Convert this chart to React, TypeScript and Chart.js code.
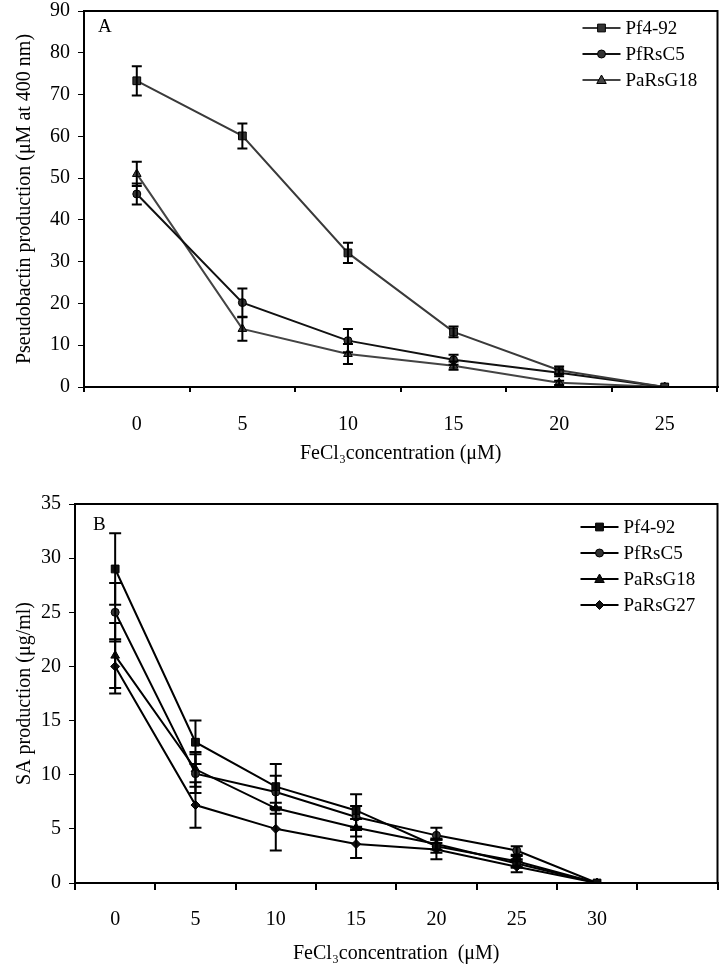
import React, { useEffect, useRef } from 'react';
import { Chart, registerables } from 'chart.js';
Chart.register(...registerables);

// ---------- Panel A data ----------
const catsA = ['0', '5', '10', '15', '20', '25'];
const pf492A = [73.3, 60.1, 32.1, 13.2, 4.0, 0];
const pf492AErr = [3.5, 3.0, 2.4, 1.3, 0.9, 0];
const pfRsC5A = [46.2, 20.2, 11.1, 6.5, 3.4, 0];
const pfRsC5AErr = [2.5, 3.4, 2.8, 1.2, 0.8, 0];
const paRsG18A = [51.0, 13.9, 7.9, 5.1, 1.0, 0];
const paRsG18AErr = [2.9, 2.8, 2.4, 1.0, 0.5, 0];

// ---------- Panel B data ----------
const catsB = ['0', '5', '10', '15', '20', '25', '30', ''];
const pf492B = [29.0, 13.0, 8.9, 6.7, 3.4, 2.0, 0];
const pf492BErr = [3.3, 2.0, 2.1, 1.5, 0.6, 0.5, 0];
const pfRsC5B = [25.0, 10.1, 8.4, 6.1, 4.4, 3.0, 0];
const pfRsC5BErr = [2.7, 1.8, 1.5, 1.0, 0.7, 0.4, 0];
const paRsG18B = [21.0, 10.5, 6.9, 5.1, 3.6, 1.8, 0];
const paRsG18BErr = [3.0, 1.6, 0.5, 0.8, 0.5, 0.4, 0];
const paRsG27B = [20.0, 7.2, 5.0, 3.6, 3.1, 1.5, 0];
const paRsG27BErr = [2.5, 2.1, 2.0, 1.3, 0.9, 0.5, 0];

const FONT = "'Liberation Serif', 'Times New Roman', serif";

function drawMarker(ctx: CanvasRenderingContext2D, style: string, x: number, y: number, r: number, fill: string) {
  ctx.save();
  ctx.fillStyle = fill;
  ctx.strokeStyle = '#000';
  ctx.lineWidth = 1;
  ctx.beginPath();
  if (style === 'rect') {
    const s = r * Math.SQRT1_2;
    ctx.rect(x - s, y - s, 2 * s, 2 * s);
  } else if (style === 'circle') {
    ctx.arc(x, y, r, 0, Math.PI * 2);
  } else if (style === 'triangle') {
    ctx.moveTo(x, y - r);
    ctx.lineTo(x + r * 0.95, y + r * 0.7);
    ctx.lineTo(x - r * 0.95, y + r * 0.7);
    ctx.closePath();
  } else if (style === 'rectRot') {
    ctx.moveTo(x, y - r);
    ctx.lineTo(x + r, y);
    ctx.lineTo(x, y + r);
    ctx.lineTo(x - r, y);
    ctx.closePath();
  }
  ctx.fill();
  ctx.stroke();
  ctx.restore();
}

function makePlugin(opts: { letter: string; letterDx: number; letterDy: number; legX: number; legDy: number; legStep: number; cap: number }) {
  return {
    id: 'custom' + opts.letter,
    afterDatasetsDraw(chart: any) {
      const ctx = chart.ctx as CanvasRenderingContext2D;
      const yScale = chart.scales.y;
      ctx.save();
      ctx.strokeStyle = '#000';
      ctx.lineWidth = 2;
      chart.data.datasets.forEach((ds: any, di: number) => {
        const meta = chart.getDatasetMeta(di);
        const errs: number[] = ds.errors || [];
        meta.data.forEach((pt: any, i: number) => {
          const e = errs[i];
          if (!e) return;
          const v = ds.data[i];
          const yt = yScale.getPixelForValue(v + e);
          const yb = yScale.getPixelForValue(v - e);
          ctx.beginPath();
          ctx.moveTo(pt.x, yt);
          ctx.lineTo(pt.x, yb);
          ctx.moveTo(pt.x - opts.cap, yt);
          ctx.lineTo(pt.x + opts.cap, yt);
          ctx.moveTo(pt.x - opts.cap, yb);
          ctx.lineTo(pt.x + opts.cap, yb);
          ctx.stroke();
        });
      });
      ctx.restore();
    },
    afterDraw(chart: any) {
      const ctx = chart.ctx as CanvasRenderingContext2D;
      const a = chart.chartArea;
      ctx.save();
      ctx.strokeStyle = '#000';
      ctx.lineWidth = 2;
      ctx.strokeRect(a.left, a.top, a.right - a.left, a.bottom - a.top);
      // panel letter
      ctx.fillStyle = '#000';
      ctx.font = `19px ${FONT}`;
      ctx.textBaseline = 'middle';
      ctx.textAlign = 'left';
      ctx.fillText(opts.letter, a.left + opts.letterDx, a.top + opts.letterDy);
      // legend
      const x0 = a.right - opts.legX;
      chart.data.datasets.forEach((ds: any, di: number) => {
        const y = a.top + opts.legDy + di * opts.legStep;
        ctx.strokeStyle = ds.borderColor;
        ctx.lineWidth = 2;
        ctx.beginPath();
        ctx.moveTo(x0, y);
        ctx.lineTo(x0 + 38, y);
        ctx.stroke();
        drawMarker(ctx, ds.pointStyle, x0 + 19, y, ds.pointRadius, ds.pointBackgroundColor);
        ctx.fillStyle = '#000';
        ctx.font = `19px ${FONT}`;
        ctx.textBaseline = 'middle';
        ctx.fillText(ds.label, x0 + 43, y + 1);
      });
      ctx.restore();
    },
  };
}

function ds(label: string, data: number[], errors: number[], style: string, color: string, fill: string, radius: number) {
  return {
    label,
    data,
    errors,
    borderColor: color,
    borderWidth: 2,
    pointStyle: style,
    pointRadius: radius,
    pointBackgroundColor: fill,
    pointBorderColor: '#000',
    pointBorderWidth: 1,
    fill: false,
    tension: 0,
  };
}

function baseOptions(cfg: { yMax: number; yStep: number; yWidth: number; xHeight: number; yTitle: string; xTitle: string; xTick: number; yTitlePad: number; xTitlePad: number; tickPad: number; padTop: number }) {
  return {
    responsive: false,
    animation: false,
    devicePixelRatio: 1,
    layout: { padding: { top: cfg.padTop, right: 2, left: 0, bottom: 0 } },
    plugins: { legend: { display: false }, tooltip: { enabled: false } },
    scales: {
      x: {
        type: 'category',
        offset: true,
        grid: { offset: true, drawOnChartArea: false, drawTicks: true, tickLength: cfg.xTick, color: '#000', lineWidth: 2 },
        border: { display: true, color: '#000', width: 2 },
        ticks: { color: '#000', font: { family: FONT, size: 20 }, padding: cfg.tickPad, maxRotation: 0, autoSkip: false },
        title: { display: true, text: cfg.xTitle, color: '#000', font: { family: FONT, size: 20 }, padding: { top: 0, bottom: cfg.xTitlePad } },
        afterFit: (s: any) => { s.height = cfg.xHeight; s.paddingLeft = 0; s.paddingRight = 0; },
      },
      y: {
        min: 0,
        max: cfg.yMax,
        grid: { drawOnChartArea: false, drawTicks: true, tickLength: 6, color: '#000', lineWidth: 1 },
        border: { display: true, color: '#000', width: 2 },
        ticks: { stepSize: cfg.yStep, color: '#000', font: { family: FONT, size: 20 }, padding: 8 },
        title: { display: true, text: cfg.yTitle, color: '#000', font: { family: FONT, size: 20 }, padding: { top: cfg.yTitlePad, bottom: 0 } },
        afterFit: (s: any) => { s.width = cfg.yWidth; s.paddingTop = 0; s.paddingBottom = 0; },
      },
    },
  };
}

export default function App() {
  const refA = useRef<HTMLCanvasElement>(null);
  const refB = useRef<HTMLCanvasElement>(null);

  useEffect(() => {
    const chartA = new Chart(refA.current as HTMLCanvasElement, {
      type: 'line',
      data: {
        labels: catsA,
        datasets: [
          ds('Pf4-92', pf492A, pf492AErr, 'rect', '#3a3a3a', '#333', 5.5),
          ds('PfRsC5', pfRsC5A, pfRsC5AErr, 'circle', '#111', '#333', 4),
          ds('PaRsG18', paRsG18A, paRsG18AErr, 'triangle', '#444', '#444', 5),
        ] as any,
      },
      options: baseOptions({
        yMax: 90, yStep: 10, yWidth: 84, xHeight: 83,
        yTitle: 'Pseudobactin production (μM at 400 nm)',
        xTitle: 'FeCl₃concentration (μM)',
        xTick: 5, yTitlePad: 13, xTitlePad: 4, tickPad: 21, padTop: 11,
      }) as any,
      plugins: [makePlugin({ letter: 'A', letterDx: 14, letterDy: 16, legX: 135, legDy: 17, legStep: 26, cap: 5 })],
    });

    const chartB = new Chart(refB.current as HTMLCanvasElement, {
      type: 'line',
      data: {
        labels: catsB,
        datasets: [
          ds('Pf4-92', pf492B, pf492BErr, 'rect', '#000', '#111', 5.5),
          ds('PfRsC5', pfRsC5B, pfRsC5BErr, 'circle', '#000', '#333', 4),
          ds('PaRsG18', paRsG18B, paRsG18BErr, 'triangle', '#000', '#111', 5),
          ds('PaRsG27', paRsG27B, paRsG27BErr, 'rectRot', '#000', '#111', 4.5),
        ] as any,
      },
      options: baseOptions({
        yMax: 35, yStep: 5, yWidth: 75, xHeight: 89,
        yTitle: 'SA production (μg/ml)',
        xTitle: 'FeCl₃concentration  (μM)',
        xTick: 7, yTitlePad: 13, xTitlePad: 6, tickPad: 18, padTop: 34,
      }) as any,
      plugins: [makePlugin({ letter: 'B', letterDx: 18, letterDy: 21, legX: 137, legDy: 23, legStep: 26, cap: 6 })],
    });

    return () => {
      chartA.destroy();
      chartB.destroy();
    };
  }, []);

  return (
    <div style={{ position: 'absolute', left: 0, top: 0, width: 724, height: 972, background: '#fff' }}>
      <canvas ref={refA} width={724} height={470} style={{ display: 'block', width: 724, height: 470 }} />
      <canvas ref={refB} width={724} height={502} style={{ display: 'block', width: 724, height: 502 }} />
    </div>
  );
}
